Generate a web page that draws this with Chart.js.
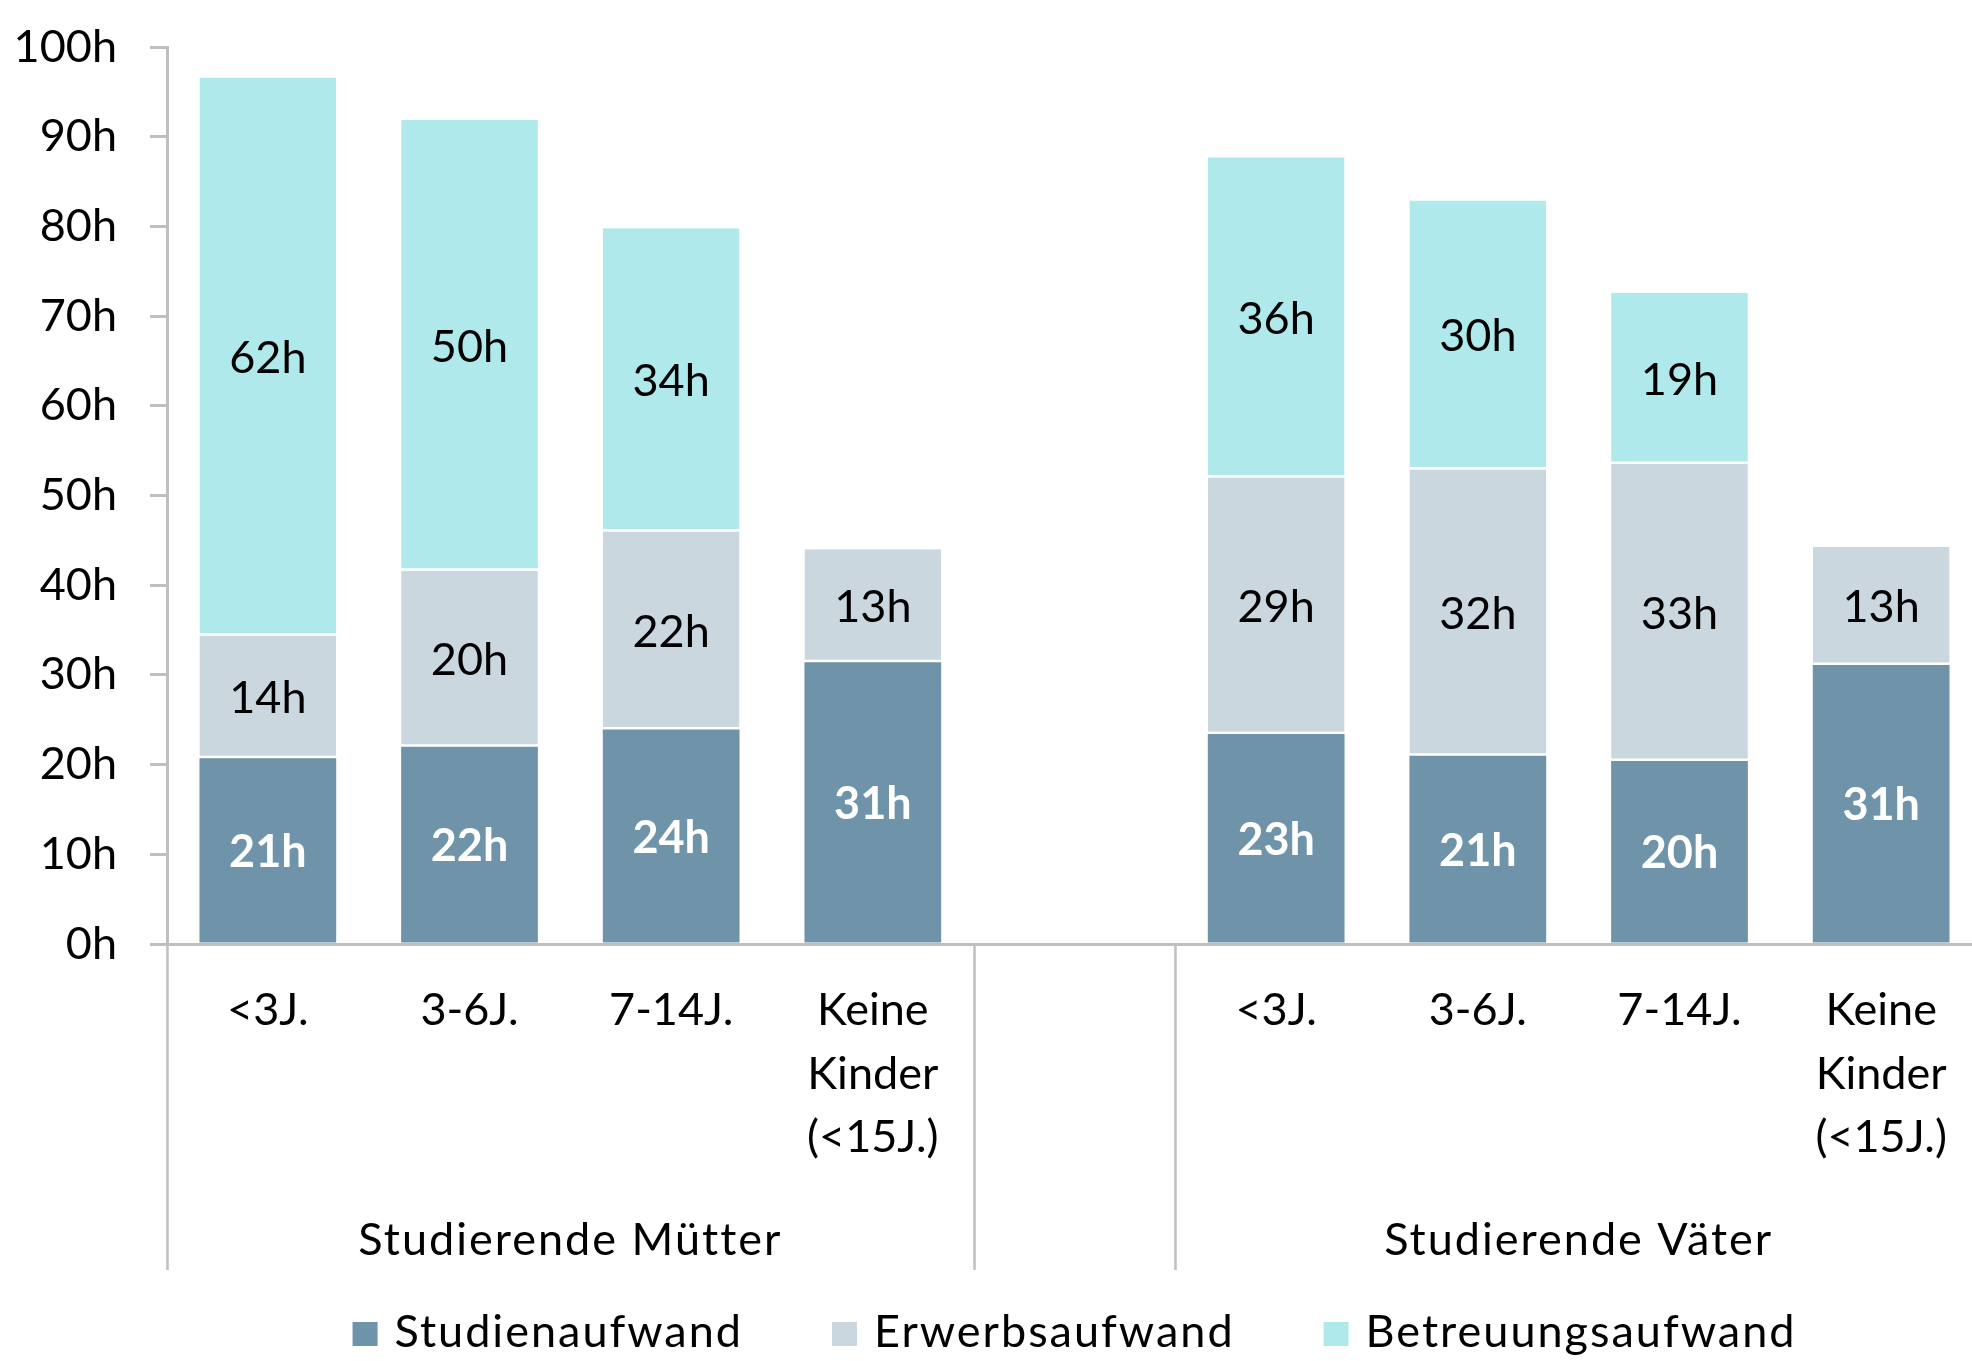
<!DOCTYPE html>
<html><head><meta charset="utf-8">
<script src="https://cdn.jsdelivr.net/npm/chart.js@4.4.1/dist/chart.umd.min.js"></script>
<style>
html,body{margin:0;padding:0;background:#fff;overflow:hidden;width:1972px;height:1361px}
#wrap{position:absolute;left:0;top:0;width:1982px;height:1361px}
</style>
</head><body><div id="wrap"><canvas id="c" width="1982" height="1361" style="width:1982px;height:1361px"></canvas></div>
<script>
// ---- data ----
const categories = ['<3J.', '3-6J.', '7-14J.', ['Keine', 'Kinder', '(<15J.)'], '', '<3J.', '3-6J.', '7-14J.', ['Keine', 'Kinder', '(<15J.)']];
const groupLabels = ['Studierende Mütter', 'Studierende Väter'];
const groupSlots = [[0, 3], [5, 8]];
const seriesNames = ['Studienaufwand', 'Erwerbsaufwand', 'Betreuungsaufwand'];
const studienaufwand    = [20.7, 22.0, 23.9, 31.4, null, 23.4, 21.0, 20.4, 31.1];
const erwerbsaufwand    = [13.7, 19.6, 22.1, 12.6, null, 28.6, 31.9, 33.1, 13.2];
const betreuungsaufwand = [62.2, 50.3, 33.8, null, null, 35.7, 30.0, 19.1, null];
const yTickValues = [0, 10, 20, 30, 40, 50, 60, 70, 80, 90, 100];
const unit = 'h';

// ---- style ----
const FONT = 'Lato, "Open Sans", sans-serif';
const FS = 45;
const GRAY = '#bfbfbf';
const colors = ['#6F93A8', '#CAD7DF', '#AFE9EB'];

const decor = {
  id: 'decor',
  afterDatasetsDraw(chart) {
    const ctx = chart.ctx;
    ctx.save();
    ctx.textAlign = 'center';
    ctx.textBaseline = 'middle';
    chart.data.datasets.forEach((ds, di) => {
      const meta = chart.getDatasetMeta(di);
      ctx.font = (di === 0 ? 'bold ' : '') + FS + 'px ' + FONT;
      ctx.fillStyle = di === 0 ? '#ffffff' : '#000000';
      meta.data.forEach((el, i) => {
        const v = ds.data[i];
        if (v == null) return;
        const p = el.getProps(['x', 'y', 'base'], true);
        ctx.fillText(Math.round(v) + unit, p.x, (p.y + p.base) / 2 + 2);
      });
    });
    ctx.restore();
  },
  afterDraw(chart) {
    const ctx = chart.ctx;
    const xs = chart.scales.x;
    const area = chart.chartArea;
    const lineBottom = area.bottom + 326;
    ctx.save();
    // axis extension + dividers
    ctx.strokeStyle = GRAY;
    ctx.lineWidth = 2.5;
    const bounds = [area.left,
      (xs.getPixelForValue(3) + xs.getPixelForValue(4)) / 2,
      (xs.getPixelForValue(4) + xs.getPixelForValue(5)) / 2];
    bounds.forEach(bx => {
      ctx.beginPath();
      ctx.moveTo(Math.round(bx) + 0.5, area.bottom);
      ctx.lineTo(Math.round(bx) + 0.5, lineBottom);
      ctx.stroke();
    });
    // group labels
    ctx.fillStyle = '#000';
    ctx.font = FS + 'px ' + FONT;
    try { ctx.letterSpacing = '2px'; } catch (e) {}
    ctx.textAlign = 'center';
    ctx.textBaseline = 'alphabetic';
    groupSlots.forEach((s, gi) => {
      const cx = (xs.getPixelForValue(s[0]) + xs.getPixelForValue(s[1])) / 2;
      ctx.fillText(groupLabels[gi], cx, 1255);
    });
    // legend
    const box = 25, boxH = 24, gapT = 17, gapI = 89;
    const widths = chart.data.datasets.map(d => ctx.measureText(d.label).width);
    const total = widths.reduce((a, w) => a + box + gapT + w, 0) + gapI * (widths.length - 1);
    let lx = (area.left + area.right) / 2 - total / 2;
    ctx.textAlign = 'left';
    chart.data.datasets.forEach((d, i) => {
      ctx.fillStyle = d.backgroundColor;
      ctx.fillRect(lx, 1322, box, boxH);
      ctx.fillStyle = '#000';
      ctx.fillText(d.label, lx + box + gapT, 1347);
      lx += box + gapT + widths[i] + gapI;
    });
    ctx.restore();
  }
};

const mk = (name, data, color, idx) => ({
  label: name,
  data: data,
  backgroundColor: color,
  borderColor: '#ffffff',
  borderWidth: {top: 0, right: 0, left: 0, bottom: idx === 0 ? 0 : 2.5},
  borderSkipped: false,
  categoryPercentage: 1.0,
  barPercentage: 0.678
});

new Chart(document.getElementById('c'), {
  type: 'bar',
  data: {
    labels: categories,
    datasets: [
      mk(seriesNames[0], studienaufwand, colors[0], 0),
      mk(seriesNames[1], erwerbsaufwand, colors[1], 1),
      mk(seriesNames[2], betreuungsaufwand, colors[2], 2)
    ]
  },
  options: {
    responsive: false,
    animation: false,
    devicePixelRatio: 1,
    layout: {padding: {top: 47, left: 0, right: 0, bottom: 0}},
    plugins: {legend: {display: false}, tooltip: {enabled: false}},
    scales: {
      x: {
        stacked: true,
        offset: true,
        grid: {display: false, drawTicks: false},
        border: {display: true, color: GRAY, width: 3},
        ticks: {
          color: '#000',
          font: {family: FONT, size: FS, lineHeight: 1.41},
          padding: 35,
          maxRotation: 0,
          autoSkip: false
        },
        afterFit(s) { s.height = 1361 - 944; s.paddingLeft = 0; s.paddingRight = 0; }
      },
      y: {
        stacked: true,
        min: 0,
        max: 100,
        afterBuildTicks(s) { s.ticks = yTickValues.map(v => ({value: v})); },
        grid: {drawOnChartArea: false, drawTicks: true, tickLength: 17, color: GRAY, lineWidth: 3},
        border: {display: true, color: GRAY, width: 3},
        ticks: {
          color: '#000',
          font: {family: FONT, size: FS},
          padding: 33,
          callback: v => v + unit
        },
        afterFit(s) { s.width = 167; s.paddingTop = 0; s.paddingBottom = 0; }
      }
    }
  },
  plugins: [decor]
});
</script>
</body></html>
